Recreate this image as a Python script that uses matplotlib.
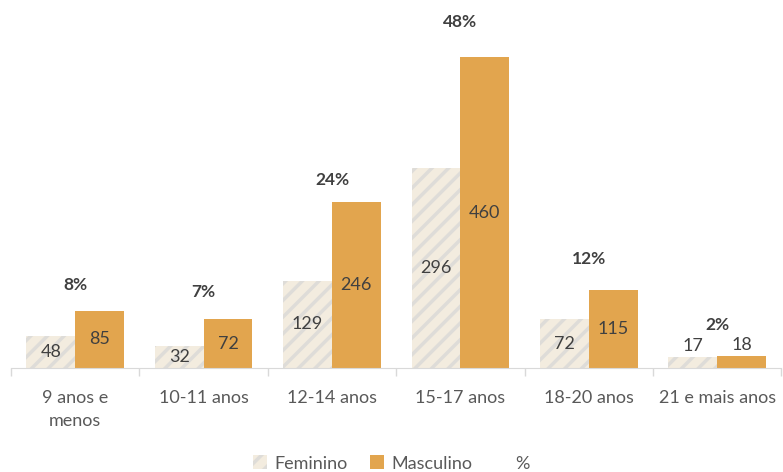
import numpy as np
import matplotlib
matplotlib.use("Agg")
import matplotlib.pyplot as plt
from matplotlib.patches import Patch
from matplotlib.lines import Line2D

plt.rcParams['font.family'] = ['Lato', 'DejaVu Sans']
plt.rcParams['hatch.linewidth'] = 2.5

categorias = ['9 anos e\nmenos', '10-11 anos', '12-14 anos', '15-17 anos', '18-20 anos', '21 e mais anos']
feminino = [48, 32, 129, 296, 72, 17]
masculino = [85, 72, 246, 460, 115, 18]
percent = [8, 7, 24, 48, 12, 2]

cor_fem = '#F3ECDF'
cor_hatch = '#DEDCD8'
cor_masc = '#E2A54E'
cinza = '#595959'
escuro = '#404040'

fig = plt.figure(figsize=(7.83, 4.72), dpi=100)
ax = fig.add_axes([0.014, 0.2203, 0.984, 0.7585])

x = np.arange(len(categorias))
w = 0.38
b1 = ax.bar(x - w/2, feminino, w, color=cor_fem, hatch='//', edgecolor=cor_hatch, linewidth=0)
b2 = ax.bar(x + w/2, masculino, w, color=cor_masc, edgecolor='none')

for bars, vals in ((b1, feminino), (b2, masculino)):
    for r, v in zip(bars, vals):
        cx = r.get_x() + r.get_width()/2
        if v < 30:
            ax.annotate(str(v), (cx, v), xytext=(0, 2), textcoords='offset points',
                        ha='center', va='bottom', fontsize=13, color=escuro)
        else:
            ax.text(cx, v/2, str(v), ha='center', va='center', fontsize=13, color=escuro)

ax.set_xlim(-0.5, len(categorias) - 0.5)
ax.set_ylim(0, 530)
ax.set_yticks([])
ax.set_xticks(x)
ax.set_xticklabels(categorias, fontsize=13, color=cinza, linespacing=1.55)
ax.set_xticks(np.arange(-0.5, len(categorias)), minor=True)
ax.tick_params(axis='x', which='major', length=0, pad=16)
ax.tick_params(axis='x', which='minor', length=6, color='#D9D9D9', width=1)
for s in ['top', 'right', 'left']:
    ax.spines[s].set_visible(False)
ax.spines['bottom'].set_color('#D9D9D9')

ax2 = ax.twinx()
ax2.set_ylim(-4.55, 49.8)
ax2.axis('off')
for xi, p in zip(x, percent):
    ax2.text(xi, p, f'{p}%', ha='center', va='center', fontsize=12.5,
             fontweight='bold', color=escuro)

handles = [Patch(facecolor=cor_fem, hatch='//', edgecolor=cor_hatch, linewidth=0),
           Patch(facecolor=cor_masc, edgecolor='none'),
           Line2D([], [], color='none')]
fig.legend(handles, ['Feminino', 'Masculino', '%'], loc='center', bbox_to_anchor=(0.5, 0.018),
           ncol=3, frameon=False, fontsize=13, labelcolor=cinza,
           handlelength=0.8, handleheight=0.8, handletextpad=0.4, columnspacing=1.2)

fig.savefig('out.png', dpi=100)
